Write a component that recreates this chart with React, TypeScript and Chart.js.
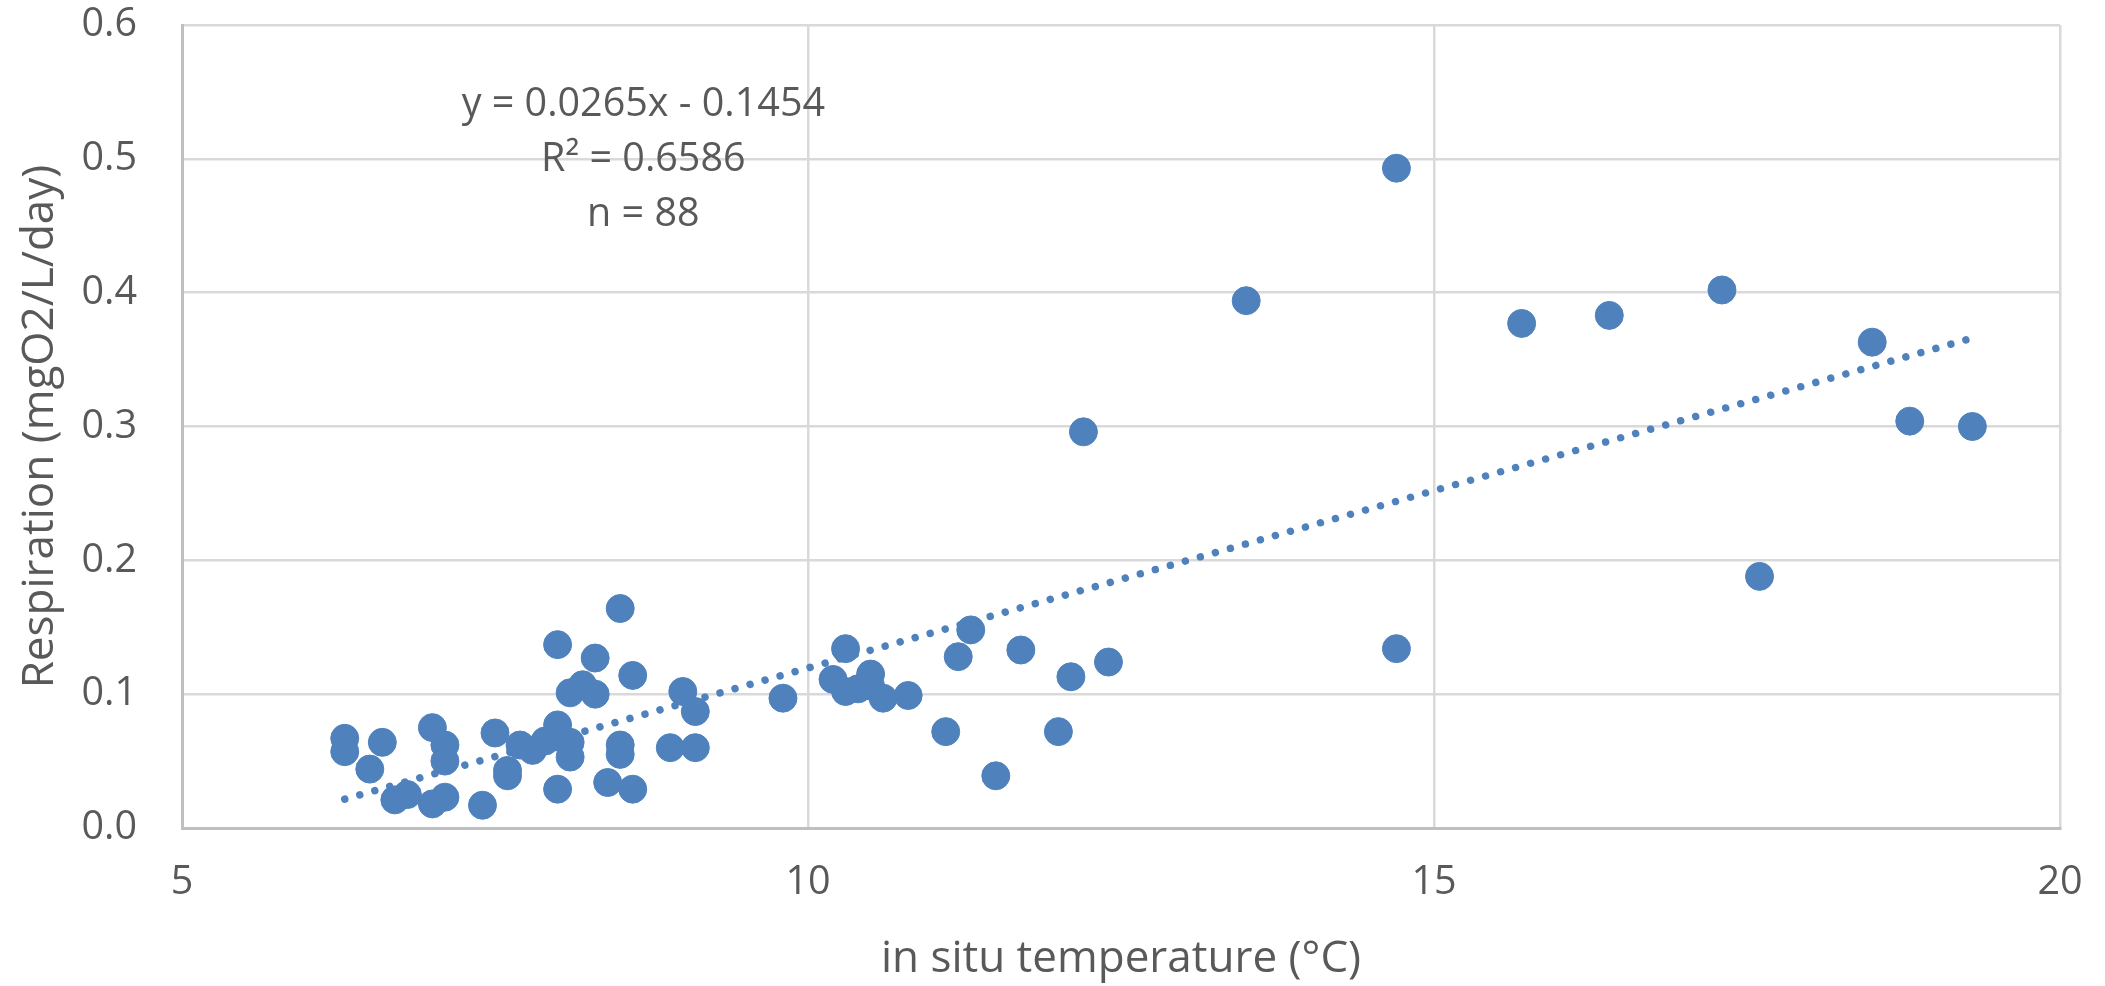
import React, { useEffect, useRef } from "react";
import { Chart, registerables } from "chart.js";

Chart.register(...registerables);

// in situ temperature (°C)
const temperature = [
  6.3, 6.3, 6.5, 6.6, 6.7, 6.8, 7.0, 7.0, 7.1, 7.1, 7.1, 7.4, 7.5, 7.6, 7.6,
  7.7, 7.8, 7.9, 8.0, 8.0, 8.0, 8.0, 8.1, 8.1, 8.1, 8.2, 8.3, 8.3, 8.4, 8.5,
  8.5, 8.5, 8.6, 8.6, 8.9, 9.0, 9.1, 9.1, 9.8, 10.2, 10.3, 10.3, 10.4, 10.5,
  10.5, 10.6, 10.8, 11.1, 11.2, 11.3, 11.5, 11.7, 12.0, 12.1, 12.2, 12.4,
  13.5, 14.7, 14.7, 15.7, 16.4, 17.3, 17.6, 18.5, 18.8, 19.3,
];

// Respiration (mgO2/L/day)
const respiration = [
  0.067, 0.057, 0.044, 0.064, 0.021, 0.025, 0.075, 0.018, 0.062, 0.05, 0.023,
  0.017, 0.071, 0.043, 0.039, 0.062, 0.058, 0.065, 0.137, 0.077, 0.068, 0.029,
  0.101, 0.064, 0.053, 0.107, 0.127, 0.1, 0.034, 0.164, 0.062, 0.055, 0.114,
  0.029, 0.06, 0.102, 0.087, 0.06, 0.097, 0.111, 0.134, 0.102, 0.104, 0.115,
  0.106, 0.097, 0.099, 0.072, 0.128, 0.148, 0.039, 0.133, 0.072, 0.113, 0.296,
  0.124, 0.394, 0.493, 0.134, 0.377, 0.383, 0.402, 0.188, 0.363, 0.304, 0.3,
];

const xTickValues = [5, 10, 15, 20];
const yTickValues = [0, 0.1, 0.2, 0.3, 0.4, 0.5, 0.6];

// Linear trendline as reported on the chart
const trendSlope = 0.0265;
const trendIntercept = -0.1454;

const annotationLines = ["y = 0.0265x - 0.1454", "R² = 0.6586", "n = 88"];
const annotationAnchor = { x: 8.685, y: 0.5402 };

const xTitle = "in situ temperature (°C)";
const yTitle = "Respiration (mgO2/L/day)";

const FONT = "'Open Sans'";
const TEXT = "#595959";
const GRID = "#D9D9D9";
const AXIS = "#BFBFBF";
const BLUE = "#4F81BD";

export default function App() {
  const ref = useRef<HTMLCanvasElement | null>(null);

  useEffect(() => {
    document.body.style.margin = "0";
    const canvas = ref.current;
    if (!canvas) return;

    const xMin = Math.min(...temperature);
    const xMax = Math.max(...temperature);
    const trendData = [
      { x: xMin, y: trendSlope * xMin + trendIntercept },
      { x: xMax, y: trendSlope * xMax + trendIntercept },
    ];
    const points = temperature.map((t, i) => ({ x: t, y: respiration[i] }));

    const textPlugin = {
      id: "trendText",
      afterDatasetsDraw(chart: any) {
        const { ctx, scales } = chart;
        const cx = scales.x.getPixelForValue(annotationAnchor.x);
        const cy = scales.y.getPixelForValue(annotationAnchor.y);
        ctx.save();
        ctx.font = `39.5px ${FONT}`;
        ctx.fillStyle = TEXT;
        ctx.textAlign = "center";
        ctx.textBaseline = "middle";
        annotationLines.forEach((t, i) => ctx.fillText(t, cx, cy + i * 55));
        ctx.restore();
      },
    };

    const chart = new Chart(canvas, {
      type: "scatter",
      data: {
        datasets: [
          {
            type: "line",
            data: trendData,
            borderColor: BLUE,
            borderWidth: 7.5,
            borderDash: [0.001, 15.6],
            borderCapStyle: "round",
            pointRadius: 0,
            fill: false,
            tension: 0,
          } as any,
          {
            data: points,
            backgroundColor: BLUE,
            borderColor: BLUE,
            borderWidth: 1,
            pointRadius: 14,
            pointHoverRadius: 14,
          },
        ],
      },
      options: {
        responsive: false,
        animation: false,
        events: [],
        layout: { autoPadding: false, padding: { left: 0, top: 25, right: 45, bottom: 0 } },
        plugins: {
          legend: { display: false },
          tooltip: { enabled: false },
        },
        scales: {
          x: {
            type: "linear",
            min: 5,
            max: 20,
            afterBuildTicks: (scale: any) => {
              scale.ticks = xTickValues.map((v) => ({ value: v }));
            },
            afterFit: (scale: any) => {
              scale.height = 158;
              scale.paddingLeft = 0;
              scale.paddingRight = 0;
            },
            ticks: {
              padding: 31,
              color: TEXT,
              font: { family: FONT, size: 39.5 },
              callback: (v: any) => String(v),
            },
            grid: { color: GRID, lineWidth: 2.5, drawTicks: false },
            border: { color: AXIS, width: 3 },
            title: {
              display: true,
              text: xTitle,
              color: TEXT,
              font: { family: FONT, size: 44 },
              padding: { top: 0, bottom: 0 },
            },
          },
          y: {
            type: "linear",
            min: 0,
            max: 0.6,
            afterBuildTicks: (scale: any) => {
              scale.ticks = yTickValues.map((v) => ({ value: v }));
            },
            afterFit: (scale: any) => {
              scale.width = 182;
              scale.paddingTop = 0;
              scale.paddingBottom = 0;
            },
            ticks: {
              padding: 45,
              color: TEXT,
              font: { family: FONT, size: 39.5 },
              callback: (v: any) => Number(v).toFixed(1),
            },
            grid: { color: GRID, lineWidth: 2.5, drawTicks: false },
            border: { color: AXIS, width: 3 },
            title: {
              display: true,
              text: yTitle,
              color: TEXT,
              font: { family: FONT, size: 44 },
              padding: { top: 14, bottom: 0 },
            },
          },
        },
      },
      plugins: [textPlugin],
    });

    return () => chart.destroy();
  }, []);

  return (
    <div style={{ position: "absolute", left: 0, top: 0, width: 2105, height: 986 }}>
      <canvas ref={ref} width={2105} height={986} />
    </div>
  );
}
